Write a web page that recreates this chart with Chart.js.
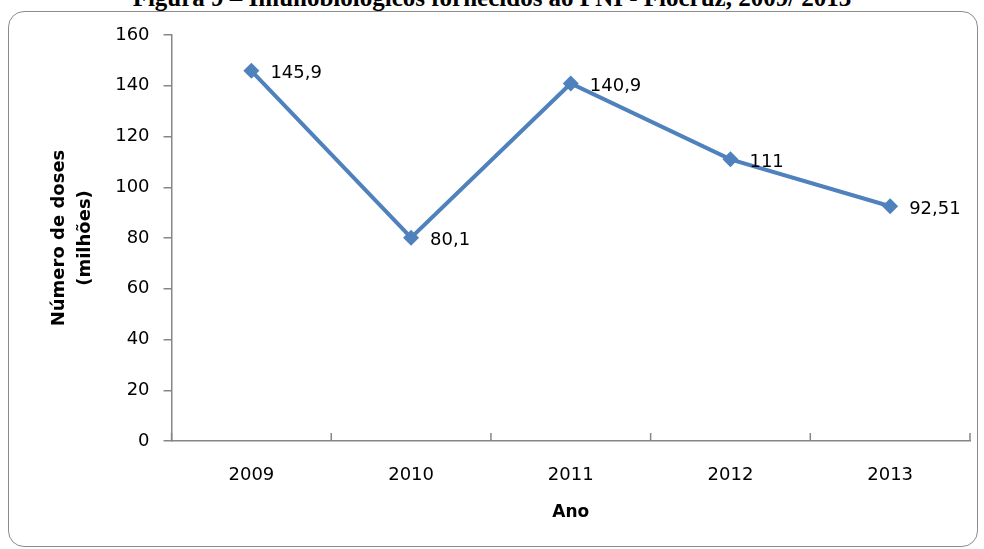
<!DOCTYPE html>
<html>
<head>
<meta charset="utf-8">
<script src="https://cdn.jsdelivr.net/npm/chart.js@4/dist/chart.umd.min.js"></script>
<style>
  html, body { margin: 0; padding: 0; background: #fff; overflow: hidden; }
  #wrap { position: relative; width: 984px; height: 549px; }
  #title {
    position: absolute; left: 0; width: 984px; top: -15px; text-align: center; line-height: 25px;
    font-family: "Liberation Serif", serif; font-weight: bold; font-size: 25px; color: #000;
  }
  #frame {
    position: absolute; left: 8px; top: 11px; width: 968px; height: 534px;
    border: 1.5px solid #8c8c8c; border-radius: 16px; pointer-events: none; background: transparent;
  }
  canvas { position: absolute; left: 0; top: 0; }
</style>
</head>
<body>
<div id="wrap">
  <div id="title">Figura 9 – Imunobiológicos fornecidos ao PNI - Fiocruz, 2009/ 2013</div>
  <div id="frame"></div>
  <canvas id="chart" width="984" height="549"></canvas>
</div>
<script>
const years = ["2009", "2010", "2011", "2012", "2013"];
const doses = [145.9, 80.1, 140.9, 111, 92.51];
const doseLabels = ["145,9", "80,1", "140,9", "111", "92,51"];
const yTicks = [0, 20, 40, 60, 80, 100, 120, 140, 160];

const FONT = "'DejaVu Sans', Verdana, sans-serif";
const AXIS = "#868686";

// x axis tick marks point upward, between categories (Excel style)
const upTicks = {
  id: "upTicks",
  afterDraw(chart) {
    const x = chart.scales.x;
    const ctx = chart.ctx;
    const n = years.length;
    ctx.save();
    ctx.strokeStyle = AXIS;
    ctx.lineWidth = 1.5;
    ctx.beginPath();
    for (let i = 0; i <= n; i++) {
      const px = x.left + (x.width / n) * i;
      ctx.moveTo(px, x.top);
      ctx.lineTo(px, x.top - 8);
    }
    ctx.stroke();
    ctx.restore();
  }
};

const pointLabels = {
  id: "pointLabels",
  afterDatasetsDraw(chart) {
    const meta = chart.getDatasetMeta(0);
    const ctx = chart.ctx;
    ctx.save();
    ctx.font = "18px " + FONT;
    ctx.fillStyle = "#000";
    ctx.textAlign = "left";
    ctx.textBaseline = "middle";
    meta.data.forEach((pt, i) => {
      ctx.fillText(doseLabels[i], pt.x + 19, pt.y + 3);
    });
    ctx.restore();
  }
};

new Chart(document.getElementById("chart").getContext("2d"), {
  type: "line",
  data: {
    labels: years,
    datasets: [{
      data: doses,
      borderColor: "#4F81BD",
      backgroundColor: "#4F81BD",
      borderWidth: 4,
      pointStyle: "rectRot",
      pointRadius: 8,
      pointBorderWidth: 0,
      tension: 0,
      fill: false
    }]
  },
  options: {
    responsive: false,
    animation: false,
    layout: { padding: { top: 35, right: 14, left: 42, bottom: 22 } },
    plugins: { legend: { display: false }, tooltip: { enabled: false } },
    scales: {
      x: {
        offset: true,
        grid: { offset: true, drawOnChartArea: false, drawTicks: false },
        border: { color: AXIS, width: 1.5 },
        ticks: { color: "#000", font: { family: FONT, size: 18 }, padding: 24 },
        title: {
          display: true, text: "Ano", color: "#000",
          font: { family: FONT, size: 17, weight: "bold" }, padding: { top: -8 }
        }
      },
      y: {
        min: 0, max: 160,
        afterBuildTicks(scale) { scale.ticks = yTicks.map(v => ({ value: v })); },
        grid: { drawOnChartArea: false, drawTicks: true, tickLength: 8, color: AXIS, lineWidth: 1.5 },
        border: { color: AXIS, width: 1.5 },
        ticks: { color: "#000", font: { family: FONT, size: 18 }, padding: 14 },
        title: {
          display: true, text: ["Número de doses", "(milhões)"], color: "#000",
          font: { family: FONT, size: 18, weight: "bold", lineHeight: 1.45 }, padding: { bottom: 3 }
        }
      }
    }
  },
  plugins: [upTicks, pointLabels]
});
</script>
</body>
</html>
